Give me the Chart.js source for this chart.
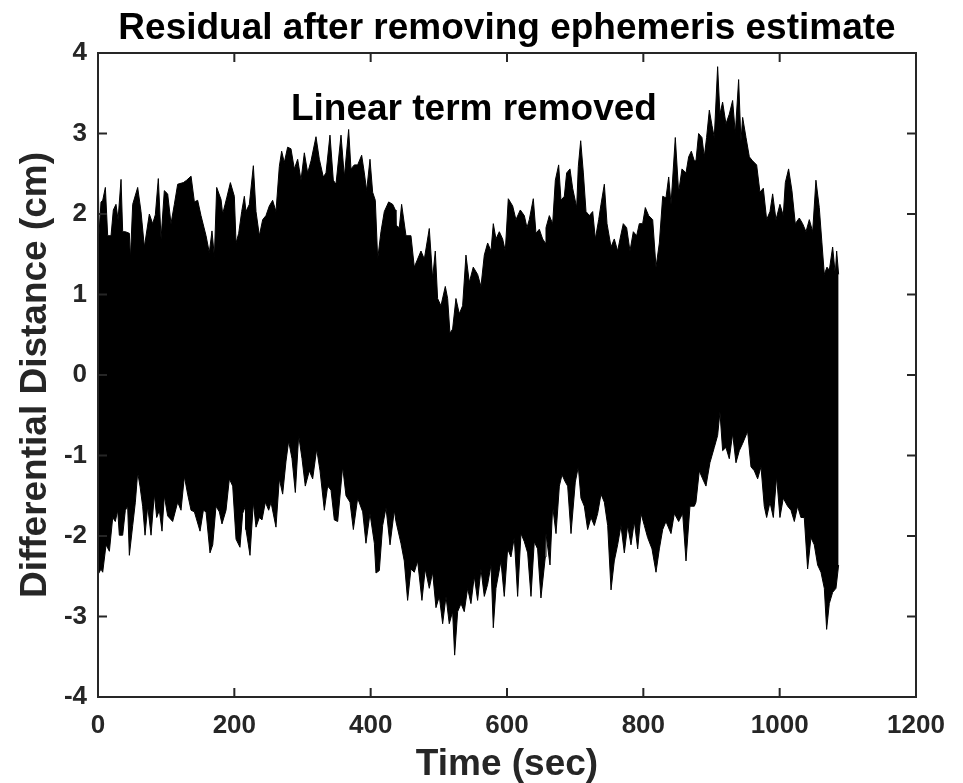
<!DOCTYPE html>
<html>
<head>
<meta charset="utf-8">
<title>Residual after removing ephemeris estimate</title>
<script src="https://cdn.jsdelivr.net/npm/chart.js@4.4.1/dist/chart.umd.min.js"></script>
<style>
html,body{margin:0;padding:0;background:#fff;}
#wrap{width:963px;height:783px;overflow:hidden;}
#chart{display:block;}
</style>
</head>
<body>
<div id="wrap"><canvas id="chart" width="963" height="783"></canvas></div>
<script>
// envelope of the residual trace (time in sec, distance in cm)
const upperT = [
  0,1.5,4.4,6.9,10.8,14.2,19.1,22.5,26.4,29.4,33.8,36.2,40.1,46.0,47.5,50.9,58.2,63.1,68.0,75.3,
  80.2,84.1,88.5,92.5,97.3,102.2,107.1,112.0,116.9,125.2,130.1,136.5,141.4,146.2,151.1,158.5,163.3,167.2,170.7,174.1,
  180.5,182.9,188.8,194.2,200.0,202.5,206.4,210.8,214.7,
  217.1,222.0,227.9,231.8,236.7,241.6,246.4,251.3,256.2,261.1,266.0,269.4,273.3,278.2,283.1,288.0,292.9,297.8,302.7,307.6,
  312.5,319.8,324.7,330.5,334.5,340.3,345.2,349.1,356.5,361.4,367.7,371.1,376.0,380.9,386.8,390.7,394.1,399.0,402.9,406.8,
  410.3,415.1,420.0,426.4,432.3,436.2,
  437.1,442.0,445.4,451.8,459.1,464.0,468.9,473.8,478.7,486.0,490.9,494.8,498.2,503.1,509.5,512.9,516.3,520.2,525.1,530.0,
  534.9,539.8,544.7,550.5,556.9,561.8,566.7,571.6,576.5,579.9,583.8,588.7,593.6,597.5,601.9,608.3,613.1,619.5,625.4,629.3,
  632.7,638.6,642.5,647.4,652.3,656.2,
  657.2,662.1,667.0,670.9,675.8,679.2,684.1,687.5,692.4,696.3,702.2,704.6,708.1,712.0,715.9,720.8,725.7,729.6,734.5,737.9,
  742.8,746.7,752.6,757.4,762.3,765.8,770.6,775.5,780.4,785.3,790.2,794.1,799.0,802.9,807.8,813.7,818.6,823.5,828.4,833.2,
  837.2,840.6,846.9,851.8,856.7,862.6,866.5,870.4,874.8,
  877.2,881.1,886.0,889.4,892.8,896.8,900.7,904.1,909.0,912.4,916.3,921.2,926.1,931.0,934.9,939.8,943.2,945.7,950.6,955.5,
  960.3,966.2,971.1,976.0,980.9,985.8,989.7,994.6,1000.4,1005.3,1008.3,1013.1,1018.0,1022.9,1028.8,1033.7,1038.6,1043.5,1048.4,1053.2,
  1058.1,1062.0,1065.5,1069.4,1072.8,1077.7,1081.6,1083.6,1086.5
];
const upperV = [
  2.75,1.75,2.15,2.17,2.33,1.73,1.73,2.05,2.12,1.93,2.43,1.78,1.78,1.76,1.44,2.12,2.33,2.03,1.59,2.00,
  1.88,1.99,2.44,1.69,2.29,2.25,1.88,2.12,2.37,2.39,2.42,2.47,2.15,2.17,1.98,1.73,1.52,1.79,1.47,2.33,
  2.18,2.00,2.20,2.39,2.22,1.64,1.76,2.03,2.22,
  2.03,2.12,2.60,2.03,1.73,1.93,1.98,2.10,2.17,2.03,2.59,2.78,2.64,2.83,2.81,2.56,2.68,2.42,2.76,2.51,
  2.66,2.96,2.68,2.46,2.51,2.98,2.42,2.37,2.98,2.46,3.05,2.56,2.61,2.61,2.73,2.51,2.29,2.68,2.27,2.17,
  1.44,1.78,2.03,2.15,2.12,2.05,
  1.86,1.83,2.12,1.73,1.73,1.34,1.44,1.54,1.44,1.82,1.20,1.54,0.95,0.86,1.10,0.95,0.52,0.57,0.95,0.76,
  0.86,1.49,1.15,1.34,1.25,1.10,1.49,1.64,1.54,1.88,1.69,1.78,1.69,1.54,2.19,2.10,1.93,2.05,1.98,1.83,
  1.93,2.19,1.76,1.81,1.69,1.64,
  1.83,1.98,1.88,2.42,2.61,2.17,2.22,2.51,2.56,2.32,2.08,2.59,2.91,2.51,2.03,1.98,2.03,1.69,1.93,2.12,
  2.37,1.88,1.59,1.69,1.54,1.69,1.88,1.83,1.54,1.78,1.73,1.88,1.88,2.08,1.98,1.93,1.34,1.64,2.22,2.20,
  2.46,2.12,2.95,2.27,2.56,2.51,2.71,2.78,2.66,
  2.66,3.00,2.95,2.71,2.95,3.29,3.10,2.95,3.83,3.24,3.39,3.12,3.24,3.41,3.00,3.67,2.90,3.20,2.95,2.71,
  2.66,2.61,2.27,2.32,1.93,2.03,2.25,1.93,2.12,1.98,2.39,2.56,2.29,1.88,1.95,1.88,1.78,1.93,1.78,2.42,
  2.08,1.64,1.25,1.34,1.30,1.59,1.25,1.54,1.25
];
const lowerT = [
  0,4.4,6.9,11.8,16.7,21.6,25.4,28.9,31.3,36.2,40.1,43.5,46.0,50.9,54.8,58.2,61.6,65.5,69.0,72.9,
  77.8,82.7,86.1,90.0,93.9,97.3,102.2,109.5,116.9,121.8,126.7,131.5,136.5,141.4,149.7,154.6,158.5,164.3,168.3,173.1,
  178.0,181.9,187.8,192.7,197.6,202.5,208.3,212.2,216.1,
  217.1,223.0,227.9,231.8,236.7,240.6,245.5,250.4,253.8,261.1,266.0,270.9,275.8,279.7,284.6,289.5,294.4,299.3,304.1,310.0,
  314.9,320.8,325.7,332.0,336.9,341.8,346.7,351.6,358.9,363.8,369.7,374.6,380.9,388.3,393.1,399.0,405.4,407.8,412.7,417.6,
  422.5,428.4,434.7,
  437.1,444.4,449.3,454.2,459.1,464.0,468.9,475.2,480.1,486.0,490.9,495.8,500.7,505.6,510.5,515.3,520.2,523.2,527.6,532.5,
  537.3,542.2,547.1,552.0,556.9,561.8,566.7,571.6,576.5,579.9,583.8,591.1,596.0,600.9,605.8,610.7,615.6,620.5,625.4,630.3,
  635.2,640.0,644.9,649.8,656.2,
  657.2,663.1,667.0,671.9,676.8,680.7,685.6,689.0,693.9,700.2,704.6,708.5,713.4,718.3,723.2,728.1,733.0,737.9,742.8,747.7,
  752.6,757.4,762.3,767.2,772.1,777.0,781.9,786.8,791.7,796.6,801.5,806.3,812.7,818.6,823.5,828.4,833.2,840.6,845.5,851.8,
  857.7,862.6,868.4,874.8,
  877.2,882.1,887.0,891.9,897.7,904.1,909.0,912.4,916.3,921.2,926.1,931.0,935.9,940.8,945.7,953.0,957.9,962.8,967.7,972.6,
  977.4,980.9,985.8,990.7,995.5,1000.4,1005.3,1011.7,1016.6,1021.5,1026.3,1031.2,1036.1,1041.0,1045.9,1050.8,1055.7,1060.6,1065.5,1068.9,
  1072.8,1077.7,1082.6,1086.5
];
const lowerV = [
  -2.48,-2.41,-2.45,-2.11,-2.19,-1.77,-1.82,-1.68,-1.99,-1.99,-1.68,-1.63,-2.24,-1.87,-1.58,-1.21,-1.38,-1.63,-1.99,-1.63,
  -1.99,-1.48,-1.77,-1.68,-1.94,-1.50,-1.75,-1.82,-1.58,-1.68,-1.26,-1.48,-1.68,-1.70,-1.94,-1.68,-1.70,-2.21,-2.11,-1.63,
  -1.70,-1.85,-1.68,-1.29,-1.38,-2.04,-2.14,-1.72,-1.63,
  -1.92,-2.24,-1.58,-1.89,-1.77,-1.80,-1.58,-1.68,-1.58,-1.89,-1.29,-1.48,-1.07,-0.82,-1.04,-1.46,-0.75,-1.04,-1.38,-1.19,
  -1.29,-0.92,-1.19,-1.68,-1.38,-1.43,-1.80,-1.82,-1.14,-1.50,-1.58,-1.92,-1.53,-1.70,-2.09,-1.72,-2.09,-2.46,-2.43,-1.87,
  -1.65,-2.11,-1.68,
  -1.82,-2.09,-2.31,-2.80,-2.41,-2.45,-2.31,-2.80,-2.41,-2.65,-2.45,-2.89,-2.75,-3.09,-2.75,-3.09,-2.94,-3.48,-2.94,-2.84,
  -2.94,-2.65,-2.84,-2.50,-2.80,-2.41,-2.75,-2.60,-2.36,-3.14,-2.65,-2.31,-2.75,-2.16,-2.26,-2.02,-2.75,-1.97,-2.07,-2.21,
  -2.75,-2.07,-2.16,-2.77,-2.26,
  -1.97,-2.36,-1.63,-1.97,-1.38,-1.24,-1.33,-1.38,-1.97,-1.33,-1.14,-1.53,-1.63,-1.92,-1.77,-1.87,-1.72,-1.48,-1.58,-1.87,
  -2.67,-2.31,-2.11,-1.87,-2.21,-1.87,-2.11,-1.82,-2.16,-1.72,-1.87,-2.02,-2.16,-2.45,-2.16,-1.92,-1.82,-1.97,-1.72,-1.82,
  -1.72,-2.31,-1.63,-1.63,
  -1.58,-1.19,-1.29,-1.38,-1.09,-0.90,-0.75,-0.46,-0.94,-0.90,-1.04,-0.73,-1.09,-0.94,-0.85,-0.70,-1.14,-1.19,-1.29,-1.14,
  -1.63,-1.77,-1.58,-1.77,-1.26,-1.77,-1.53,-1.63,-1.68,-1.82,-1.63,-1.77,-1.77,-2.41,-2.02,-2.11,-2.36,-2.45,-2.65,-3.16,
  -2.84,-2.70,-2.65,-2.36
];

const xTicks = [0,200,400,600,800,1000,1200];
const yTicks = [-4,-3,-2,-1,0,1,2,3,4];

const titleText = "Residual after removing ephemeris estimate";
const xTitle = "Time (sec)";
const yTitle = "Differential Distance (cm)";
const noteText = "Linear term removed";
const noteX = 283, noteY = 3.30;

const FONT = '"Liberation Sans", Arial, Helvetica, sans-serif';
const AXIS_COLOR = "#262626";
Chart.defaults.font.family = FONT;

// box with inward ticks on all four sides (matlab look), title over the axes, text note
const matlabBox = {
  id: "matlabBox",
  afterDatasetsDraw(chart){
    const {ctx, chartArea:a, scales:{x,y}} = chart;
    const len = 9;
    ctx.save();
    ctx.strokeStyle = AXIS_COLOR;
    ctx.lineWidth = 2;
    ctx.strokeRect(a.left, a.top, a.right-a.left, a.bottom-a.top);
    ctx.beginPath();
    xTicks.forEach(v=>{
      const px = x.getPixelForValue(v);
      ctx.moveTo(px,a.bottom); ctx.lineTo(px,a.bottom-len);
      ctx.moveTo(px,a.top); ctx.lineTo(px,a.top+len);
    });
    yTicks.forEach(v=>{
      const py = y.getPixelForValue(v);
      ctx.moveTo(a.left,py); ctx.lineTo(a.left+len,py);
      ctx.moveTo(a.right,py); ctx.lineTo(a.right-len,py);
    });
    ctx.stroke();

    ctx.fillStyle = "#000";
    ctx.textBaseline = "middle";
    ctx.font = "bold 37px " + FONT;
    ctx.textAlign = "center";
    ctx.fillText(titleText, (a.left+a.right)/2, 29);
    ctx.textAlign = "left";
    ctx.fillText(noteText, x.getPixelForValue(noteX), y.getPixelForValue(noteY));
    ctx.restore();
  }
};

new Chart(document.getElementById("chart"), {
  type: "line",
  data: {
    datasets: [
      {label:"upper", data: upperT.map((t,i)=>({x:t, y:upperV[i]})),
       borderColor:"#000", backgroundColor:"#000", borderWidth:1, pointRadius:0, tension:0, fill:"+1"},
      {label:"lower", data: lowerT.map((t,i)=>({x:t, y:lowerV[i]})),
       borderColor:"#000", backgroundColor:"#000", borderWidth:1, pointRadius:0, tension:0, fill:false}
    ]
  },
  options: {
    responsive: false,
    animation: false,
    events: [],
    layout: {padding:{left:0, right:47, top:53, bottom:0}},
    plugins: {
      legend: {display:false},
      tooltip: {enabled:false},
      title: {display:false}
    },
    scales: {
      x: {
        type:"linear", min:0, max:1200,
        afterBuildTicks: s => { s.ticks = xTicks.map(v=>({value:v})); },
        afterFit: s => { s.height = 86; },
        grid:{display:false}, border:{display:false},
        ticks:{color:AXIS_COLOR, font:{size:26, weight:"bold"}, padding:5, maxRotation:0, autoSkip:false,
               callback: v => String(v)},
        title:{display:true, text:xTitle, color:AXIS_COLOR, font:{size:37, weight:"bold"}, padding:{top:0, bottom:-4}}
      },
      y: {
        type:"linear", min:-4, max:4,
        afterBuildTicks: s => { s.ticks = yTicks.map(v=>({value:v})); },
        afterFit: s => { s.width = 98; },
        grid:{display:false}, border:{display:false},
        ticks:{color:AXIS_COLOR, font:{size:26, weight:"bold"}, padding:3, autoSkip:false,
               callback: v => String(v)},
        title:{display:true, text:yTitle, color:AXIS_COLOR, font:{size:37, weight:"bold"}, padding:{top:14, bottom:0}}
      }
    }
  },
  plugins: [matlabBox]
});
</script>
</body>
</html>
